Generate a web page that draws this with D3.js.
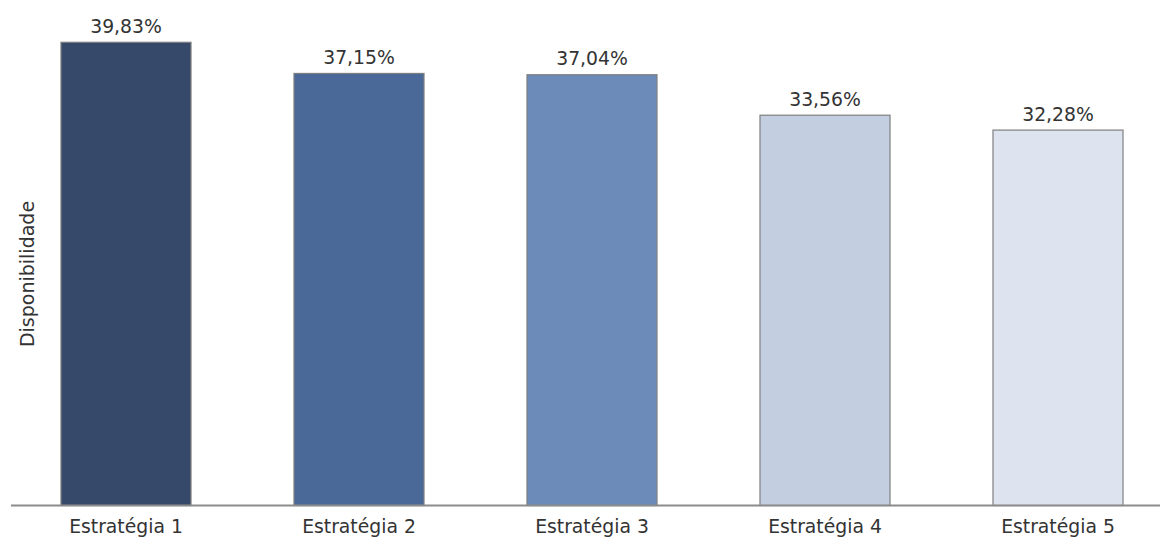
<!DOCTYPE html>
<html><head><meta charset="utf-8">
<script src="https://cdn.jsdelivr.net/npm/d3@7"></script>
<style>body{margin:0;background:#fff}svg{display:block}text{font-family:"DejaVu Sans","Open Sans",sans-serif;fill:#333}</style>
</head><body>
<svg id="c" width="1160" height="538"></svg>
<script>
const categories = ["Estratégia 1","Estratégia 2","Estratégia 3","Estratégia 4","Estratégia 5"];
const values = [39.83, 37.15, 37.04, 33.56, 32.28];
const labels = ["39,83%","37,15%","37,04%","33,56%","32,28%"];
const colors = ["#36496b","#4a6999","#6c8bb8","#c3cee1","#dde4ef"];
const yTitle = "Disponibilidade";

const svg = d3.select("#c");
const x = d3.scaleBand().domain(categories).range([9.5,1174.5]).paddingInner(0.442).paddingOuter(0.221);
const y = d3.scaleLinear().domain([0,40]).range([505.5,40.3]);

svg.selectAll("rect.bar").data(values).join("rect").attr("class","bar")
  .attr("x",(d,i)=>x(categories[i])).attr("width",x.bandwidth())
  .attr("y",d=>y(d)).attr("height",d=>y(0)-y(d))
  .attr("fill",(d,i)=>colors[i]).attr("stroke","#7f7f7f").attr("stroke-width",1.2);

svg.append("line").attr("x1",11).attr("x2",1160).attr("y1",y(0)).attr("y2",y(0))
  .attr("stroke","#8c8c8c").attr("stroke-width",2);

svg.selectAll("text.val").data(values).join("text").attr("class","val")
  .attr("x",(d,i)=>x(categories[i])+x.bandwidth()/2).attr("y",d=>y(d)-9.5)
  .attr("text-anchor","middle").attr("font-size",18.8).text((d,i)=>labels[i]);

svg.selectAll("text.cat").data(categories).join("text").attr("class","cat")
  .attr("x",d=>x(d)+x.bandwidth()/2).attr("y",533)
  .attr("text-anchor","middle").attr("font-size",18.8).text(d=>d);

svg.append("text").attr("transform","translate(34,274) rotate(-90)")
  .attr("text-anchor","middle").attr("font-size",19).text(yTitle);
</script>
</body></html>
